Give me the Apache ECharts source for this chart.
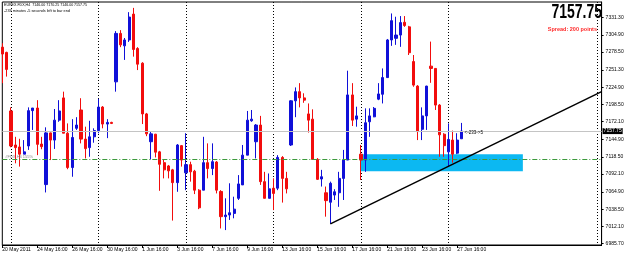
<!DOCTYPE html>
<html>
<head>
<meta charset="utf-8">
<script src="https://cdn.jsdelivr.net/npm/echarts@6/dist/echarts.min.js"></script>
<style>
  html, body { margin: 0; padding: 0; background: #fff; }
  #main { width: 625px; height: 257px; }
</style>
</head>
<body>
<div id="main"></div>
<script>
// EUREX.FDX H4 bars, oldest first
var opens = [
  7286, 7278, 7188.5, 7136.5, 7133.5, 7122.5, 7135, 7189, 7193, 7138,
  7076, 7155, 7144, 7174.5, 7208.5, 7154.5, 7102, 7162, 7190, 7145.5,
  7132.5, 7149, 7158.5, 7194.5, 7168.5, 7171, 7233, 7307, 7288, 7297,
  7336.5, 7284, 7261.5, 7184, 7141.5, 7153, 7126, 7109.5, 7104.5, 7098.5,
  7079, 7135.5, 7094, 7106.5, 7096.5, 7067.5, 7067.5, 7109.5, 7100.5, 7110.5,
  7065.5, 7027, 7029.5, 7032, 7055, 7075.5, 7121, 7173.5, 7141.5, 7167,
  7080.5, 7055, 7070.5, 7070.5, 7117.5, 7085.5, 7136.5, 7204, 7218, 7208.5,
  7184, 7176, 7114.5, 7084.5, 7063.5, 7049, 7060, 7063.5, 7085.5, 7113.5,
  7213, 7176, 7122.5, 7113.5, 7172, 7179.5, 7206.5, 7214, 7239.5, 7297,
  7299.5, 7304.5, 7324, 7317, 7264, 7226.5, 7160.5, 7181, 7257, 7253.5,
  7197.5, 7153, 7126, 7144, 7124, 7146
];
var closes = [
  7275.5, 7252, 7135, 7132.5, 7122.5, 7126, 7189, 7193, 7137.5, 7134,
  7155, 7144, 7174.5, 7188.5, 7154.5, 7102, 7148, 7167, 7145.5, 7131,
  7149, 7158.5, 7194.5, 7168.5, 7171, 7169.5, 7307, 7289.5, 7297, 7332,
  7282.5, 7260, 7184, 7153.5, 7153.5, 7125.5, 7107, 7098.5, 7097, 7079,
  7136.5, 7113.5, 7106.5, 7095.5, 7067.5, 7040.5, 7109.5, 7100.5, 7111, 7067.5,
  7027, 7029.5, 7033, 7038.5, 7077, 7121, 7174.5, 7176, 7167, 7080.5,
  7055, 7069.5, 7062.5, 7117.5, 7085.5, 7069.5, 7204, 7218, 7208.5, 7205,
  7174.5, 7114.5, 7084, 7088, 7051.5, 7078, 7065, 7085.5, 7113.5, 7213,
  7174.5, 7181, 7113.5, 7170.5, 7181, 7192.5, 7214.5, 7239.5, 7297, 7326.5,
  7304.5, 7323.5, 7319, 7277.5, 7228, 7157, 7181, 7226.5, 7253.5, 7197.5,
  7152, 7135.5, 7145, 7122.5, 7144, 7157.75
];
var lows = [
  7231, 7241, 7133, 7108.5, 7103.5, 7122.5, 7129, 7159.5, 7121, 7130,
  7064, 7113.5, 7130.5, 7172, 7154.5, 7099.5, 7088, 7159.5, 7139, 7116,
  7118.5, 7140, 7154.5, 7162, 7147, 7168.5, 7218, 7286, 7266.5, 7294,
  7271.5, 7251, 7168.5, 7150, 7114.5, 7117.5, 7066.5, 7085.5, 7085.5, 7021,
  7065, 7103.5, 7067.5, 7080.5, 7061.5, 7038.5, 7067.5, 7085.5, 7090.5, 7062.5,
  7009, 7006.5, 7022, 7024.5, 7052.5, 7075.5, 7121, 7172, 7116, 7075.5,
  7055, 7055, 7037, 7067.5, 7048.5, 7062.5, 7135, 7179, 7194, 7201,
  7155.5, 7114.5, 7083, 7073, 7027, 7016, 7052.5, 7042, 7052.5, 7113.5,
  7165.5, 7164.5, 7083, 7095.5, 7149, 7179, 7205, 7200, 7239, 7288,
  7289.5, 7286.5, 7317, 7274, 7225.5, 7144, 7144, 7159.5, 7231.5, 7190,
  7118.5, 7118.5, 7103.5, 7109.5, 7122.5, 7146
];
var highs = [
  7292, 7279, 7194, 7149, 7146, 7144, 7194, 7193, 7205, 7149,
  7163.5, 7155.5, 7191.5, 7205, 7218, 7169.5, 7176, 7179, 7208, 7164.5,
  7173.5, 7162, 7207, 7196, 7176, 7172, 7310.5, 7312, 7300, 7339.5,
  7346, 7286, 7263, 7185.5, 7157, 7153.5, 7127.5, 7115, 7106, 7100,
  7138, 7136.5, 7154.5, 7111, 7098.5, 7069, 7149, 7139, 7139, 7112,
  7067.5, 7055, 7078, 7057.5, 7090.5, 7136.5, 7188.5, 7190, 7168.5, 7181,
  7095.5, 7093, 7085.5, 7121, 7119.5, 7095.5, 7205, 7224.5, 7231, 7215.5,
  7200, 7191, 7116.5, 7098.5, 7073, 7080.5, 7069, 7095.5, 7129, 7250,
  7231, 7195, 7136.5, 7192.5, 7192.5, 7194.5, 7231, 7253.5, 7298.5, 7337.5,
  7332.5, 7333.5, 7333.5, 7318.5, 7274, 7228, 7194, 7227, 7294.5, 7254,
  7199, 7154.5, 7169.5, 7158.5, 7154.5, 7170.25
];

var dateLabels = [
  '20 May 2011', '24 May 16:00', '26 May 16:00', '30 May 16:00', '1 Jun 16:00',
  '3 Jun 16:00', '7 Jun 16:00', '9 Jun 16:00', '13 Jun 16:00', '15 Jun 16:00',
  '17 Jun 16:00', '21 Jun 16:00', '23 Jun 16:00', '27 Jun 16:00'
];
var barsPerLabel = 8;
var slotCount = 138;                 // bars plus the empty shift area on the right
var gridBars = [2, 22, 42, 62, 82, 102, 136];
var priceTicks = [
  6985.70, 7012.10, 7038.50, 7064.90, 7092.10, 7118.50, 7144.90,
  7172.10, 7198.50, 7224.90, 7251.30, 7278.50, 7304.90, 7331.30
];

var bidPrice = 7157.75;
var levelPrice = 7115;
var zoneBars = [82, 119];
var zonePrices = [7122.3, 7096.3];
var trendLine = [[75, 7016], [137, 7218]];

var categories = [];
for (var i = 0; i < slotCount; i++) categories.push(String(i));

var candles = opens.map(function (o, i) {
  return [o, closes[i], lows[i], highs[i]];
});

var labelAt = function (idx) {
  return idx % barsPerLabel === 0 && idx / barsPerLabel < dateLabels.length;
};

var smallFont = 'Liberation Sans';
var myChart = echarts.init(document.getElementById('main'), null, { renderer: 'canvas' });

var option = {
  animation: false,
  backgroundColor: '#fff',
  grid: {
    left: 2.3, right: 23.4, top: 2, bottom: 12,
    show: true, borderColor: '#000', borderWidth: 1, backgroundColor: '#fff',
    outerBoundsMode: 'none'
  },
  xAxis: {
    type: 'category',
    data: categories,
    boundaryGap: false,
    axisLine: { lineStyle: { color: '#000', width: 1 } },
    axisTick: { interval: labelAt, length: 3, lineStyle: { color: '#000' } },
    axisLabel: {
      interval: labelAt,
      formatter: function (v, idx) { return dateLabels[idx / barsPerLabel]; },
      align: 'left', margin: 2,
      fontSize: 5, fontFamily: smallFont, color: '#000'
    },
    splitLine: {
      show: true,
      interval: function (idx) { return gridBars.indexOf(idx) >= 0; },
      lineStyle: { color: '#000', type: [1, 2], width: 1 }
    }
  },
  yAxis: {
    type: 'value',
    position: 'right',
    scale: true,
    min: 6983.7,
    max: 7355,
    axisLine: { show: true, lineStyle: { color: '#000', width: 1 } },
    axisTick: { show: true, customValues: priceTicks, length: 2, lineStyle: { color: '#000' } },
    axisLabel: {
      customValues: priceTicks,
      formatter: function (v) { return v.toFixed(2); },
      margin: 4, fontSize: 5, fontFamily: smallFont, color: '#000'
    },
    splitLine: { show: false }
  },
  series: [
    {
      type: 'candlestick',
      data: candles,
      barWidth: 2.6,
      itemStyle: {
        color: '#1010d8', color0: '#f20d0d',
        borderColor: '#1010d8', borderColor0: '#f20d0d', borderColorDoji: '#f20d0d',
        borderWidth: 1
      },
      markArea: {
        silent: true,
        itemStyle: { color: '#0cb8f2' },
        data: [[
          { xAxis: zoneBars[0], yAxis: zonePrices[0] },
          { xAxis: zoneBars[1], yAxis: zonePrices[1] }
        ]]
      },
      markLine: {
        silent: true,
        symbol: ['none', 'none'],
        data: [
          {
            yAxis: bidPrice,
            lineStyle: { color: '#c4c4c4', type: 'solid', width: 1 },
            label: {
              show: true, position: 'end', distance: 1,
              formatter: bidPrice.toFixed(2),
              backgroundColor: '#000', color: '#fff', padding: [1, 1, 0, 1],
              fontSize: 5, fontFamily: smallFont
            }
          },
          {
            yAxis: levelPrice,
            lineStyle: { color: '#3c9a3c', type: [5, 2, 1, 2], width: 1 },
            label: {
              show: true, position: 'insideStartTop', distance: [3, 0],
              formatter: '#FDX,H4 155%',
              color: '#8a8a8a', fontSize: 4, fontFamily: smallFont
            }
          }
        ]
      },
      markPoint: {
        silent: true,
        symbolSize: 0,
        data: [{
          coord: [105, bidPrice],
          label: {
            show: true, position: 'right', distance: 3, offset: [0, 2],
            formatter: '<-233->5', color: '#000', fontSize: 4.5, fontFamily: smallFont
          }
        }]
      }
    },
    {
      type: 'line',
      data: trendLine,
      symbol: 'none',
      z: 5,
      lineStyle: { color: '#000', width: 1.5 }
    }
  ],
  graphic: [
    {
      type: 'text', left: 4, top: 3,
      style: {
        text: 'EUREX.FDX,H4  7146.00 7170.25 7146.00 7157.75',
        font: '3.6px "Liberation Sans"', fill: '#000'
      }
    },
    {
      type: 'text', left: 4, top: 9,
      style: {
        text: '-233 minutes -5 seconds left to bar end',
        font: '3.8px "Liberation Sans"', fill: '#000'
      }
    },
    {
      type: 'text', x: 602, y: 2, scaleX: 0.7,
      style: {
        text: '7157.75', align: 'right', verticalAlign: 'top',
        font: 'bold 20px "Liberation Sans"', fill: '#000'
      }
    },
    {
      type: 'text', right: 28, top: 26,
      style: {
        text: 'Spread: 200 points',
        font: 'bold 5.5px "Liberation Sans"', fill: '#ff2a2a'
      }
    }
  ]
};

myChart.setOption(option);
</script>
</body>
</html>
